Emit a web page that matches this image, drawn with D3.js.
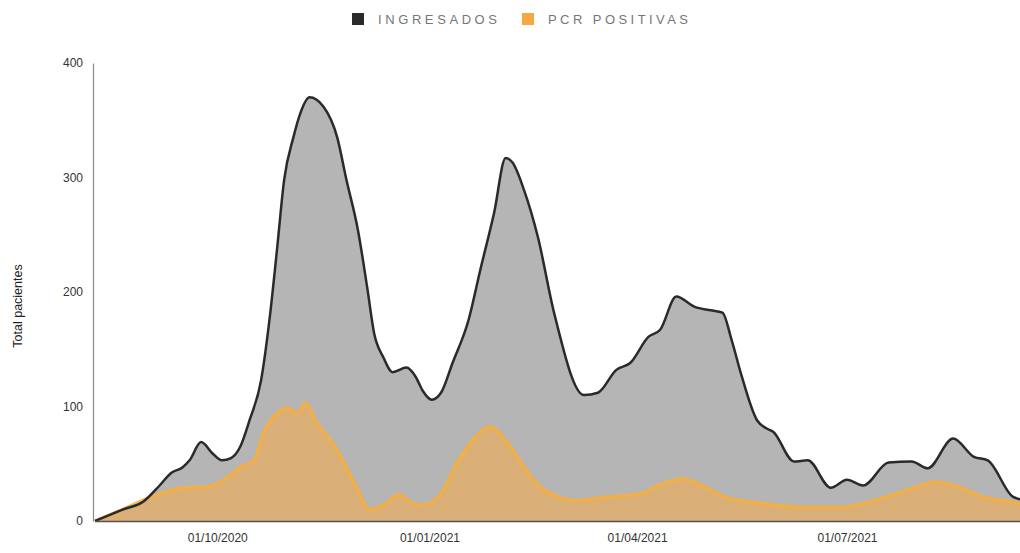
<!DOCTYPE html>
<html>
<head>
<meta charset="utf-8">
<script src="https://cdn.jsdelivr.net/npm/d3@7"></script>
<style>
  html, body { margin: 0; padding: 0; background: #fff; }
  svg { display: block; font-family: "Liberation Sans", Arial, sans-serif; }
</style>
</head>
<body>
<svg id="chart" width="1020" height="553"></svg>
<script>
// ---- DATA ----
const seriesNames = ["INGRESADOS", "PCR POSITIVAS"];
const xTickLabels = ["01/10/2020", "01/01/2021", "01/04/2021", "01/07/2021"];
const yTickValues = [0, 100, 200, 300, 400];

const ingresadosDates = [
  "2020-08-09","2020-08-21","2020-08-30","2020-09-06","2020-09-11","2020-09-16","2020-09-19",
  "2020-09-24","2020-09-29","2020-10-03","2020-10-07","2020-10-11","2020-10-15","2020-10-20",
  "2020-10-24","2020-10-27","2020-10-30","2020-11-03","2020-11-06","2020-11-10","2020-11-16",
  "2020-11-22","2020-11-26","2020-12-01","2020-12-05","2020-12-08","2020-12-12","2020-12-16",
  "2020-12-22","2020-12-26","2020-12-29","2021-01-02","2021-01-06","2021-01-11","2021-01-18",
  "2021-01-23","2021-01-29","2021-02-03","2021-02-06","2021-02-11","2021-02-17","2021-02-24",
  "2021-03-09","2021-03-15","2021-03-23","2021-03-29","2021-04-06","2021-04-11","2021-04-18",
  "2021-04-26","2021-05-03","2021-05-08","2021-05-12","2021-05-16","2021-05-23","2021-05-27",
  "2021-05-30","2021-06-08","2021-06-14","2021-06-24","2021-07-01","2021-07-08","2021-07-19",
  "2021-07-29","2021-08-05","2021-08-16","2021-08-25","2021-08-31","2021-09-11","2021-09-14"
];
const ingresadosValues = [
  0, 10, 17, 31, 42, 47, 53,
  69, 59, 53, 55, 65, 88, 123,
  182, 239, 298, 335, 356, 370, 362,
  335, 298, 254, 204, 164, 143, 130,
  134, 126, 114, 106, 112, 138, 176,
  219, 269, 317, 313, 289, 248, 182,
  110, 112, 132, 138, 161, 167, 196,
  187, 184, 182, 158, 129, 88, 81,
  78, 52, 53, 29, 36, 31, 51,
  52, 46, 72, 56, 53, 21, 19
];

const pcrDates = [
  "2020-08-09","2020-08-21","2020-09-01","2020-09-08","2020-09-16","2020-09-27","2020-10-04",
  "2020-10-11","2020-10-17","2020-10-21","2020-10-27","2020-10-31","2020-11-05","2020-11-08",
  "2020-11-13","2020-11-19","2020-11-25","2020-12-01","2020-12-06","2020-12-12","2020-12-19",
  "2020-12-24","2020-12-29","2021-01-06","2021-01-13","2021-01-20","2021-01-27","2021-02-04",
  "2021-02-11","2021-02-18","2021-02-26","2021-03-05","2021-03-19","2021-04-03","2021-04-10",
  "2021-04-21","2021-04-27","2021-05-09","2021-05-23","2021-06-14","2021-06-28","2021-07-13",
  "2021-07-27","2021-08-09","2021-08-18","2021-08-29","2021-09-12","2021-09-14"
];
const pcrValues = [
  0, 10, 20, 25, 29, 30, 36,
  47, 53, 77, 94, 99, 94, 103,
  86, 71, 51, 27, 10, 14, 23,
  16, 14, 24, 51, 71, 82, 68,
  47, 30, 21, 18, 21, 24, 31,
  37, 33, 21, 16, 12, 12, 18,
  27, 34, 30, 21, 16, 15
];
const xTickDates = ["2020-10-01", "2021-01-01", "2021-04-01", "2021-07-01"];

// ---- CHART ----
const parse = d3.timeParse("%Y-%m-%d");
const svg = d3.select("#chart");

const x = d3.scaleTime()
  .domain([parse("2020-08-09"), parse("2021-09-14")])
  .range([95, 1020]);
const y = d3.scaleLinear().domain([0, 400]).range([521, 63]);

const ing = ingresadosDates.map((d, i) => ({ date: parse(d), value: ingresadosValues[i] }));
const pcr = pcrDates.map((d, i) => ({ date: parse(d), value: pcrValues[i] }));

const curve = d3.curveMonotoneX;
const area = d3.area().x(d => x(d.date)).y0(y(0)).y1(d => y(d.value)).curve(curve);
const line = d3.line().x(d => x(d.date)).y(d => y(d.value)).curve(curve);

// gray area
svg.append("path").datum(ing).attr("d", area).attr("fill", "#b5b5b5");
// orange area
svg.append("path").datum(pcr).attr("d", area)
  .attr("fill", "rgba(247,172,70,0.55)");
svg.append("path").datum(pcr).attr("d", line)
  .attr("fill", "none").attr("stroke", "rgba(248,175,60,0.85)").attr("stroke-width", 3.5)
  .attr("stroke-linejoin", "round");
// dark outline
svg.append("path").datum(ing).attr("d", line)
  .attr("fill", "none").attr("stroke", "#2a2a2a").attr("stroke-width", 2.5)
  .attr("stroke-linejoin", "round");

// Y axis
const yAxis = d3.axisLeft(y).tickValues(yTickValues).tickSize(0).tickPadding(10);
const yg = svg.append("g").attr("transform", "translate(93,0)").call(yAxis);
yg.select(".domain").attr("stroke", "#8a8a8a").attr("stroke-width", 1.2);
yg.selectAll("text").attr("font-size", 12).attr("fill", "#333")
  .attr("font-family", "'Liberation Sans', Arial, sans-serif");

// X axis
const xAxis = d3.axisBottom(x)
  .tickValues(xTickDates.map(parse))
  .tickFormat((d, i) => xTickLabels[i])
  .tickSize(0).tickPadding(12);
const xg = svg.append("g").attr("transform", "translate(0,521)").call(xAxis);
xg.select(".domain").attr("stroke", "#555").attr("stroke-width", 1.5);
xg.selectAll("text").attr("font-size", 12).attr("fill", "#333")
  .attr("font-family", "'Liberation Sans', Arial, sans-serif");

// Y title
svg.append("text")
  .attr("transform", "translate(22,306) rotate(-90)")
  .attr("text-anchor", "middle")
  .attr("font-size", 12.5).attr("fill", "#222")
  .text("Total pacientes");

// Legend
const legendColors = ["#2a2a2a", "#f5a843"];
const legendX = [352, 522];
const legendTextW = [119, 140];
seriesNames.forEach((name, i) => {
  svg.append("rect").attr("x", legendX[i]).attr("y", 13).attr("width", 12).attr("height", 12)
    .attr("fill", legendColors[i]);
  svg.append("text").attr("x", legendX[i] + 26).attr("y", 24)
    .attr("font-size", 13).attr("fill", "#777")
    .attr("textLength", legendTextW[i]).attr("lengthAdjust", "spacing")
    .text(name);
});
</script>
</body>
</html>
